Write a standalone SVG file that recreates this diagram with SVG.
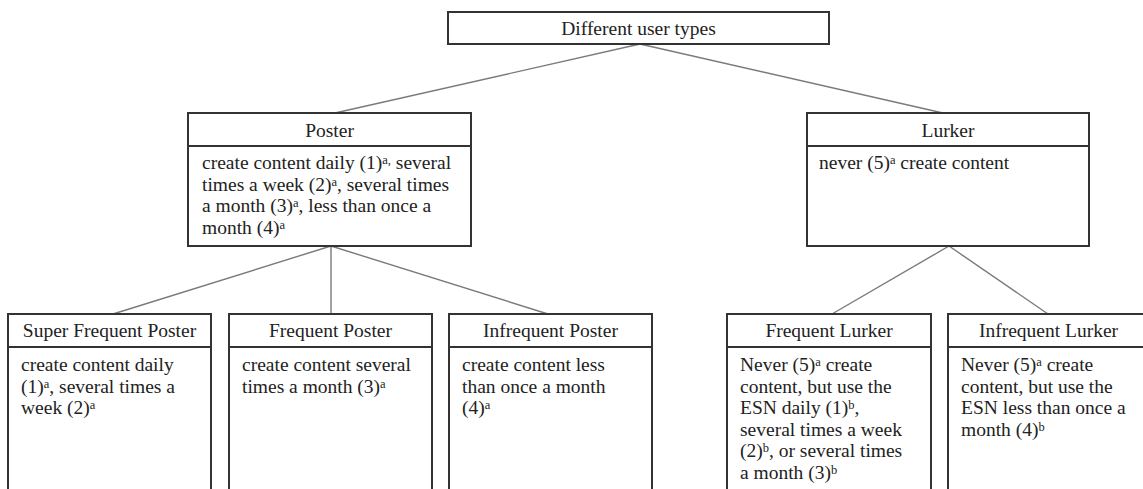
<svg xmlns="http://www.w3.org/2000/svg" width="1143" height="489" viewBox="0 0 1143 489">
<style>
  .box { fill: #ffffff; stroke: #333333; stroke-width: 2; }
  .sep { stroke: #333333; stroke-width: 2; }
  .conn { stroke: #7a7a7a; stroke-width: 1.4; fill: none; }
  text { font-family: 'Liberation Serif', Tinos, 'DejaVu Serif', serif; font-size: 19.5px; fill: #222222; }
  .c { text-anchor: middle; }
  .sup { font-size: 12.5px; baseline-shift: 38%; }
</style>
<rect width="1143" height="489" fill="#ffffff"/>
<g id="connectors">
  <line class="conn" x1="640" y1="44" x2="335" y2="113"/>
  <line class="conn" x1="640" y1="44" x2="943" y2="113"/>
  <line class="conn" x1="331" y1="246" x2="113" y2="314"/>
  <line class="conn" x1="331" y1="246" x2="331" y2="314"/>
  <line class="conn" x1="331" y1="246" x2="548" y2="314"/>
  <line class="conn" x1="949" y1="246" x2="832" y2="314"/>
  <line class="conn" x1="949" y1="246" x2="1048" y2="314"/>
</g>
<g id="node-root">
  <rect class="box" x="448" y="12" width="381" height="32"/>
  <text class="c" x="638.5" y="34.5" font-family="Liberation Serif, serif">Different user types</text>
</g>
<g id="node-poster">
  <rect class="box" x="188" y="113" width="283" height="133"/>
  <line class="sep" x1="188" y1="146" x2="471" y2="146"/>
  <text class="c" x="329.5" y="137">Poster</text>
  <text x="202" y="169">create content daily (1)<tspan class="sup">a,</tspan> several</text>
  <text x="202" y="190.7">times a week (2)<tspan class="sup">a</tspan>, several times</text>
  <text x="202" y="212.4">a month (3)<tspan class="sup">a</tspan>, less than once a</text>
  <text x="202" y="234">month (4)<tspan class="sup">a</tspan></text>
</g>
<g id="node-lurker">
  <rect class="box" x="807" y="113" width="282" height="133"/>
  <line class="sep" x1="807" y1="146" x2="1089" y2="146"/>
  <text class="c" x="948" y="137">Lurker</text>
  <text x="819" y="169">never (5)<tspan class="sup">a</tspan> create content</text>
</g>
<g id="node-super-frequent-poster">
  <rect class="box" x="8" y="314" width="203" height="190"/>
  <line class="sep" x1="8" y1="347" x2="211" y2="347"/>
  <text class="c" x="109.5" y="337">Super Frequent Poster</text>
  <text x="21" y="371">create content daily</text>
  <text x="21" y="392.5">(1)<tspan class="sup">a</tspan>, several times a</text>
  <text x="21" y="414">week (2)<tspan class="sup">a</tspan></text>
</g>
<g id="node-frequent-poster">
  <rect class="box" x="229" y="314" width="203" height="190"/>
  <line class="sep" x1="229" y1="347" x2="432" y2="347"/>
  <text class="c" x="330.5" y="337">Frequent Poster</text>
  <text x="242" y="371">create content several</text>
  <text x="242" y="392.5">times a month (3)<tspan class="sup">a</tspan></text>
</g>
<g id="node-infrequent-poster">
  <rect class="box" x="449" y="314" width="203" height="190"/>
  <line class="sep" x1="449" y1="347" x2="652" y2="347"/>
  <text class="c" x="550.5" y="337">Infrequent Poster</text>
  <text x="462" y="371">create content less</text>
  <text x="462" y="392.5">than once a month</text>
  <text x="462" y="414">(4)<tspan class="sup">a</tspan></text>
</g>
<g id="node-frequent-lurker">
  <rect class="box" x="727" y="314" width="204" height="190"/>
  <line class="sep" x1="727" y1="347" x2="931" y2="347"/>
  <text class="c" x="829" y="337">Frequent Lurker</text>
  <text x="740" y="371">Never (5)<tspan class="sup">a</tspan> create</text>
  <text x="740" y="392.5">content, but use the</text>
  <text x="740" y="414">ESN daily (1)<tspan class="sup">b</tspan>,</text>
  <text x="740" y="435.5">several times a week</text>
  <text x="740" y="457">(2)<tspan class="sup">b</tspan>, or several times</text>
  <text x="740" y="478.5">a month (3)<tspan class="sup">b</tspan></text>
</g>
<g id="node-infrequent-lurker">
  <rect class="box" x="948" y="314" width="201" height="190"/>
  <line class="sep" x1="948" y1="347" x2="1149" y2="347"/>
  <text class="c" x="1048.5" y="337">Infrequent Lurker</text>
  <text x="961" y="371">Never (5)<tspan class="sup">a</tspan> create</text>
  <text x="961" y="392.5">content, but use the</text>
  <text x="961" y="414">ESN less than once a</text>
  <text x="961" y="435.5">month (4)<tspan class="sup">b</tspan></text>
</g>
</svg>
